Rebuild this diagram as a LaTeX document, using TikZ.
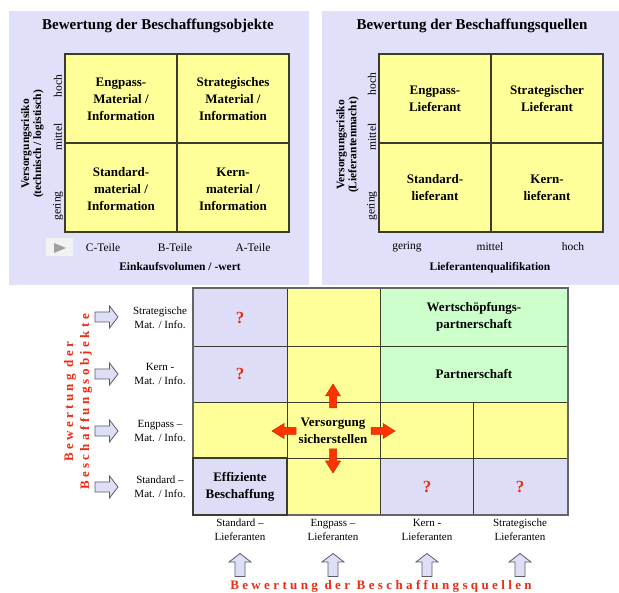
\documentclass[tikz,border=0pt]{standalone}
\usepackage{fontspec}
\setmainfont{Liberation Serif}
\newfontfamily\spacedfont[LetterSpace=26]{Liberation Serif}
\definecolor{panelbg}{RGB}{224,224,250}
\definecolor{cellyel}{RGB}{255,255,153}
\definecolor{celllav}{RGB}{221,221,247}
\definecolor{cellgrn}{RGB}{204,255,204}
\definecolor{gridcol}{RGB}{60,60,45}
\definecolor{redtxt}{RGB}{235,45,20}
\definecolor{arrred}{RGB}{255,51,0}
\definecolor{arrredd}{RGB}{200,40,0}
\definecolor{arrlav}{RGB}{222,222,247}
\definecolor{arrlavd}{RGB}{90,90,110}
\begin{document}
\begin{tikzpicture}[x=1pt,y=-1pt,
  gridln/.style={draw=gridcol, line width=1.2pt},
  thinln/.style={draw=gridcol, line width=0.9pt},
  title/.style={font=\fontsize{15}{18}\selectfont\bfseries, inner sep=0},
  celltxt/.style={font=\fontsize{13}{17}\selectfont\bfseries, align=center, inner sep=0},
  lbl/.style={font=\fontsize{11.5}{14}\selectfont, inner sep=0},
  axtitle/.style={font=\fontsize{11.5}{12}\selectfont\bfseries, align=center, inner sep=0},
  smalllbl/.style={font=\fontsize{11}{14}\selectfont, align=center, inner sep=0},
  qmark/.style={font=\fontsize{17}{18}\selectfont\bfseries, text=redtxt, inner sep=0},
  redspaced/.style={font=\fontsize{13}{16}\selectfont\spacedfont\bfseries, text=redtxt, align=center, inner sep=0},
  lavarrow/.pic={\draw[fill=arrlav, draw=arrlavd, line width=0.8pt]
     (-11.5,-5) -- (3,-5) -- (3,-11) -- (11.5,0) -- (3,11) -- (3,5) -- (-11.5,5) -- cycle;},
  redarrow/.pic={\draw[fill=arrred, draw=arrredd, line width=0.5pt]
     (-12,-3.5) -- (0,-3.5) -- (0,-7.5) -- (12,0) -- (0,7.5) -- (0,3.5) -- (-12,3.5) -- cycle;}
]
\useasboundingbox (0,0) rectangle (619,593);
\fill[white] (0,0) rectangle (619,593);

% ---------- top-left panel ----------
\fill[panelbg] (9,11) rectangle (309,285);
\draw[gridln, fill=cellyel] (65,54) rectangle (289,232);
\draw[gridln] (177,54) -- (177,232) (65,143) -- (289,143);
\node[title] (t1) at (158,26) {Bewertung der Beschaffungsobjekte};
\node[celltxt] (c11) at (121,99) {Engpass-\\Material /\\Information};
\node[celltxt] (c12) at (233,99) {Strategisches\\Material /\\Information};
\node[celltxt] (c21) at (121,189) {Standard-\\material /\\Information};
\node[celltxt] (c22) at (233,189) {Kern-\\material /\\Information};
\node[lbl, rotate=90] (lh) at (58,86) {hoch};
\node[lbl, rotate=90] (lm) at (58,137) {mittel};
\node[lbl, rotate=90] (lg) at (58,206) {gering};
\node[axtitle, rotate=90] (lax) at (32.5,144) {Versorgungsrisiko\\(technisch / logistisch)};
\fill[white!95!black] (46,238) rectangle (73,256);
\fill[gray!75] (54,243) -- (66,248) -- (54,253) -- cycle;
\node[lbl] (lc) at (103,248) {C-Teile};
\node[lbl] (lb) at (175,248) {B-Teile};
\node[lbl] (la) at (253,248) {A-Teile};
\node[axtitle] (lx) at (180,267) {Einkaufsvolumen / -wert};

% ---------- top-right panel ----------
\fill[panelbg] (322,11) rectangle (619,285);
\draw[gridln, fill=cellyel] (379,54) rectangle (603,232);
\draw[gridln] (491,54) -- (491,232) (379,143) -- (603,143);
\node[title] (t2) at (472,26) {Bewertung der Beschaffungsquellen};
\node[celltxt] (d11) at (435,99) {Engpass-\\Lieferant};
\node[celltxt] (d12) at (547,99) {Strategischer\\Lieferant};
\node[celltxt] (d21) at (435,188) {Standard-\\lieferant};
\node[celltxt] (d22) at (547,188) {Kern-\\lieferant};
\node[lbl, rotate=90] (rh) at (372,84) {hoch};
\node[lbl, rotate=90] (rm) at (372,137) {mittel};
\node[lbl, rotate=90] (rg) at (372,206) {gering};
\node[axtitle, rotate=90] (rax) at (347.5,145) {Versorgungsrisiko\\(Lieferantenmacht)};
\node[lbl] (rxg) at (407,247) {gering};
\node[lbl] (rxm) at (490,247) {mittel};
\node[lbl] (rxh) at (573,247) {hoch};
\node[axtitle] (rx) at (490,268) {Lieferantenqualifikation};

% ---------- bottom matrix ----------
\fill[celllav] (193,288) rectangle (287,402);
\fill[cellyel] (287,288) rectangle (380,515);
\fill[cellgrn] (380,288) rectangle (568,402);
\fill[cellyel] (193,402) rectangle (568,458);
\fill[celllav] (193,458) rectangle (287,515);
\fill[celllav] (380,458) rectangle (568,515);
\draw[thinln] (193,346) -- (568,346) (193,402) -- (568,402) (193,458) -- (568,458);
\draw[thinln] (287,288) -- (287,515) (380,288) -- (380,515) (473,402) -- (473,515);
\draw[draw=gray!80!black, line width=1.2pt] (193,288) rectangle (568,515);
\draw[gridcol, line width=1.2pt] (193,458) rectangle (287,515);

\node[qmark] (q1) at (240,318) {?};
\node[qmark] (q2) at (240,374) {?};
\node[qmark] (q3) at (427,487) {?};
\node[qmark] (q4) at (520,487) {?};
\node[celltxt] (wsp) at (474,317) {Wertschöpfungs-\\partnerschaft};
\node[celltxt] (ps) at (474,374) {Partnerschaft};
\node[celltxt] (eb) at (240,487) {Effiziente\\Beschaffung};
\node[celltxt] (vs) at (333,431) {Versorgung\\sicherstellen};

\pic (ru) at (333,396) [rotate=90] {redarrow};
\pic (rd) at (333,461) [rotate=-90] {redarrow};
\pic (rl) at (284,431) [rotate=180] {redarrow};
\pic (rr) at (383,431) {redarrow};

\node[smalllbl] (m1) at (160,318) {Strategische\\Mat. / Info.};
\node[smalllbl] (m2) at (160,374) {Kern -\\Mat. / Info.};
\node[smalllbl] (m3) at (160,431) {Engpass –\\Mat. / Info.};
\node[smalllbl] (m4) at (160,487) {Standard –\\Mat. / Info.};
\pic (a1) at (106.5,317) {lavarrow};
\pic (a2) at (106.5,374) {lavarrow};
\pic (a3) at (106.5,431) {lavarrow};
\pic (a4) at (106.5,487) {lavarrow};
\node[redspaced, rotate=90] (vobj) at (78,402) {Bewertung der\\Beschaffungsobjekte};

\node[smalllbl] (s1) at (240,530) {Standard –\\Lieferanten};
\node[smalllbl] (s2) at (333,530) {Engpass –\\Lieferanten};
\node[smalllbl] (s3) at (427,530) {Kern -\\Lieferanten};
\node[smalllbl] (s4) at (520,530) {Strategische\\Lieferanten};
\pic (u1) at (240,565) [rotate=90] {lavarrow};
\pic (u2) at (333,565) [rotate=90] {lavarrow};
\pic (u3) at (427,565) [rotate=90] {lavarrow};
\pic (u4) at (520,565) [rotate=90] {lavarrow};
\node[redspaced] (vq) at (381,586) {Bewertung der Beschaffungsquellen};
\end{tikzpicture}
\end{document}
